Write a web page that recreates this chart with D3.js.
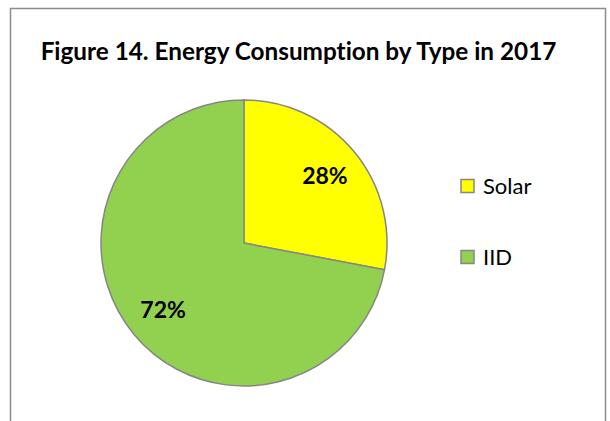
<!DOCTYPE html>
<html>
<head>
<meta charset="utf-8">
<script src="https://cdn.jsdelivr.net/npm/d3@7"></script>
<style>
  html, body { margin: 0; padding: 0; background: #ffffff; }
  svg { display: block; }
  text { font-family: Lato, "Open Sans", sans-serif; font-variant-ligatures: none; }
</style>
</head>
<body>
<svg id="chart" width="610" height="421"></svg>
<script>
// Energy consumption shares, 2017
const categories = ["Solar", "IID"];
const shares = [28, 72];
const sliceColors = ["#FFFF00", "#92D050"];
const chartTitle = "Figure 14. Energy Consumption by Type in 2017";

const width = 610, height = 421;
const svg = d3.select("#chart");

// chart area frame (runs past the bottom edge)
svg.append("rect")
  .attr("x", 10.5).attr("y", 8.5)
  .attr("width", 595).attr("height", 430)
  .attr("fill", "#ffffff")
  .attr("stroke", "#8c8c8c")
  .attr("stroke-width", 1.5);

svg.append("text")
  .attr("x", 298.5).attr("y", 60)
  .attr("text-anchor", "middle")
  .attr("font-weight", "bold")
  .attr("font-size", 24.3)
  .attr("fill", "#000")
  .text(chartTitle);

const cx = 244, cy = 243, radius = 143;
const color = d3.scaleOrdinal().domain(categories).range(sliceColors);

const pie = d3.pie().sort(null).value(d => d.value);
const data = categories.map((c, i) => ({ name: c, value: shares[i] }));
const arcs = pie(data);

const arc = d3.arc().innerRadius(0).outerRadius(radius);
const labelArc = d3.arc().innerRadius(105).outerRadius(105);

const g = svg.append("g").attr("transform", `translate(${cx},${cy})`);

g.selectAll("path.slice")
  .data(arcs)
  .join("path")
  .attr("class", "slice")
  .attr("d", arc)
  .attr("fill", d => color(d.data.name))
  .attr("stroke", "#868686")
  .attr("stroke-width", 1.5)
  .attr("stroke-linejoin", "round");

const total = d3.sum(shares);
g.selectAll("text.pct")
  .data(arcs)
  .join("text")
  .attr("class", "pct")
  .attr("transform", d => `translate(${labelArc.centroid(d)})`)
  .attr("text-anchor", "middle")
  .attr("dy", "0.36em")
  .attr("font-weight", "bold")
  .attr("font-size", 23)
  .attr("fill", "#000")
  .text(d => Math.round(d.data.value / total * 100) + "%");

// legend
const legendY = d3.scalePoint().domain(categories).range([186, 257]);
const legend = svg.append("g");
const items = legend.selectAll("g")
  .data(categories)
  .join("g")
  .attr("transform", d => `translate(461,${legendY(d)})`);

items.append("rect")
  .attr("x", 0).attr("y", -6.5)
  .attr("width", 13).attr("height", 13)
  .attr("fill", d => color(d))
  .attr("stroke", "#868686")
  .attr("stroke-width", 1.5);

items.append("text")
  .attr("x", 22).attr("y", 8)
  .attr("font-size", 22)
  .attr("fill", "#000")
  .text(d => d);
</script>
</body>
</html>
